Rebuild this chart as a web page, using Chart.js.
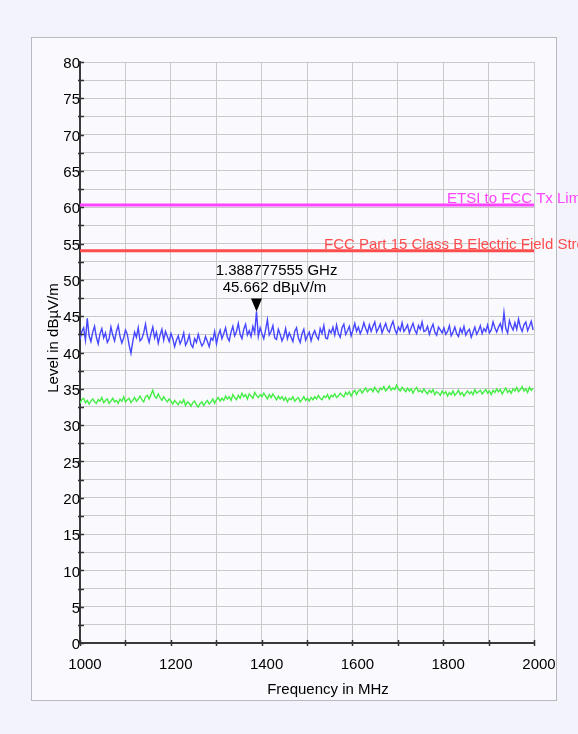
<!DOCTYPE html>
<html>
<head>
<meta charset="utf-8">
<script src="https://cdn.jsdelivr.net/npm/chart.js@4/dist/chart.umd.min.js"></script>
<style>
html,body{margin:0;padding:0;background:#f3f3fb;}
#wrap{position:absolute;left:0;top:0;width:578px;height:734px;}
</style>
</head>
<body>
<div id="wrap"><canvas id="c" width="578" height="734"></canvas></div>
<script>
// ---- data ----
const sweepStartMHz = 1000;
const sweepStepMHz = 2000 / 499; // 250 sweep points
const peakLevel = [
41.8,42.9,43.4,41.7,44.7,42.3,41.5,42.8,43.6,42.1,
41.2,42.6,43.3,42.0,42.7,41.4,41.9,43.5,42.4,41.6,
42.9,43.7,42.2,41.3,42.0,43.1,42.5,41.0,39.9,41.5,
42.8,42.1,43.4,41.6,41.9,42.7,43.9,42.3,41.4,42.6,
43.5,42.0,42.8,41.3,42.4,43.2,41.7,42.9,42.2,41.5,
42.6,41.9,40.8,41.7,42.3,41.2,41.8,42.7,41.0,41.5,
42.4,41.1,40.7,41.9,41.4,42.5,41.6,40.9,41.3,42.2,
41.5,40.8,42.0,41.7,42.9,41.2,42.4,43.1,41.9,42.6,
43.4,42.1,41.6,42.8,43.6,42.3,42.9,44.0,42.5,41.9,
43.2,43.9,42.4,43.0,42.2,43.6,42.7,45.662,42.2,43.4,
42.6,41.9,43.1,44.5,42.4,42.9,43.7,42.0,41.8,43.2,
42.5,41.6,42.2,43.3,41.9,42.7,42.1,41.5,42.9,43.4,
42.0,41.4,42.6,43.2,41.7,42.3,42.8,41.6,42.5,43.0,
42.2,41.8,43.3,42.6,43.7,42.0,41.9,43.1,42.7,43.5,
42.4,43.8,42.6,42.1,43.4,43.9,42.5,43.0,43.6,42.3,
43.1,44.0,42.9,43.5,42.6,43.2,44.1,43.3,42.7,43.8,
42.9,43.6,44.2,42.8,43.3,43.9,42.7,43.4,44.0,43.1,
42.8,43.7,44.3,43.2,42.6,43.5,43.0,44.1,42.9,43.3,
43.8,42.7,43.4,44.0,43.1,42.6,43.7,43.2,44.2,42.9,
43.0,43.6,42.5,43.3,43.9,42.8,42.4,43.5,43.1,42.7,
43.4,42.5,42.9,43.7,42.3,42.8,43.5,42.6,42.2,43.3,
42.7,43.6,42.4,42.9,43.2,42.1,42.8,43.5,42.5,43.0,
43.7,42.6,43.3,42.9,43.8,42.7,43.1,44.2,43.4,42.8,
43.5,44.0,43.0,45.5,43.3,42.7,44.4,43.6,43.1,44.1,
43.2,44.6,43.5,42.9,43.8,44.2,43.0,43.6,44.3,43.1
];
const avgLevel = [
33.0,33.5,33.7,33.1,33.4,32.9,33.3,33.6,33.2,33.0,
33.5,33.3,33.8,33.1,33.4,33.6,33.0,33.3,33.7,33.2,
33.4,33.0,33.6,33.3,33.9,33.2,33.5,33.7,33.1,33.4,
33.8,33.3,33.6,34.0,33.5,33.2,33.9,34.1,33.6,34.2,
34.8,34.0,33.7,34.3,33.8,33.4,33.9,33.5,33.2,33.6,
33.3,32.9,33.4,33.1,32.8,33.3,33.0,33.5,32.7,33.2,
33.0,32.6,33.1,33.3,32.8,32.5,33.0,33.2,32.7,33.1,
33.4,32.9,33.2,33.6,33.0,33.5,33.8,33.3,33.7,33.4,
34.0,33.6,33.9,33.4,34.2,33.8,33.5,34.1,33.7,34.4,
33.9,34.2,33.6,34.3,34.0,33.7,34.5,34.1,33.8,34.2,
33.9,34.4,34.0,33.6,34.2,33.8,34.3,33.9,33.5,34.0,
33.6,33.9,33.4,33.8,33.2,33.7,33.5,33.9,33.3,33.6,
33.8,33.2,33.5,33.9,33.4,33.7,33.3,33.8,33.5,33.9,
33.6,34.1,33.7,33.5,34.0,33.8,34.2,33.6,34.1,33.9,
34.3,33.8,34.0,34.4,34.1,33.9,34.5,34.2,34.6,34.0,
34.5,34.8,34.2,34.7,34.9,34.4,34.8,35.1,34.6,34.9,
35.0,34.6,35.2,34.8,34.5,35.1,34.9,35.3,34.7,35.0,
35.4,34.8,35.1,34.9,35.5,35.0,34.7,35.2,34.9,34.6,
35.1,34.7,35.0,34.4,34.9,35.2,34.6,34.8,34.5,35.0,
34.6,34.3,34.8,34.5,34.9,34.2,34.6,34.4,34.1,34.7,
34.3,34.6,34.0,34.5,34.2,34.7,34.1,34.4,34.8,34.2,
34.5,34.0,34.4,34.7,34.3,34.6,34.2,34.9,34.4,34.6,
34.8,34.3,34.6,34.9,34.4,34.7,34.2,34.8,34.5,35.0,
34.6,34.9,34.3,34.7,35.1,34.5,34.8,34.4,35.0,34.7,
35.2,34.6,34.9,35.3,34.7,35.0,34.5,35.2,34.8,35.1
];
const limitNames = ["ETSI to FCC Tx Limit", "FCC Part 15 Class B Electric Field Strength Limit"];
const limitLevels = [60.3, 54.0];
const markerFreqMHz = 1388.777555;
const markerLevel = 45.662;
const markerLines = ["1.388777555 GHz", "45.662 dBµV/m"];
const xTitle = "Frequency in MHz";
const yTitle = "Level in dBµV/m";

// ---- build ----
const toPts = arr => arr.map((v, i) => ({x: sweepStartMHz + i * sweepStepMHz, y: v}));
const FONT = '"Liberation Sans", Arial, sans-serif';
const FS = 15;
const limitColors = ['#ff44ff', '#ff4d4d'];

const decor = {
  id: 'decor',
  beforeDraw(chart) {
    const ctx = chart.ctx;
    ctx.save();
    ctx.fillStyle = '#f3f3fb';
    ctx.fillRect(0, 0, chart.width, chart.height);
    ctx.fillStyle = '#f9f9fe';
    ctx.fillRect(31.5, 37.5, 525, 663);
    ctx.strokeStyle = '#b9b9c2';
    ctx.lineWidth = 1;
    ctx.strokeRect(31.5, 37.5, 525, 663);
    ctx.restore();
  },
  afterDraw(chart) {
    const ctx = chart.ctx;
    const xs = chart.scales.x, ys = chart.scales.y;
    const a = chart.chartArea;
    ctx.save();
    // tick marks
    ctx.strokeStyle = '#333';
    ctx.lineWidth = 1.5;
    ys.ticks.forEach(t => {
      const y = Math.round(ys.getPixelForValue(t.value)) + 0.5;
      ctx.beginPath(); ctx.moveTo(a.left - 2, y); ctx.lineTo(a.left + 4, y); ctx.stroke();
    });
    xs.ticks.forEach(t => {
      const x = Math.round(xs.getPixelForValue(t.value)) + 0.5;
      ctx.beginPath(); ctx.moveTo(x, a.bottom - 3); ctx.lineTo(x, a.bottom + 3); ctx.stroke();
    });
    // limit labels
    ctx.font = FS + 'px ' + FONT;
    ctx.textBaseline = 'alphabetic';
    ctx.textAlign = 'left';
    const labelX = [447, 324];
    limitLevels.forEach((lv, i) => {
      const y = ys.getPixelForValue(lv);
      ctx.fillStyle = limitColors[i];
      ctx.fillText(limitNames[i], labelX[i], y - 2);
    });
    // marker
    const px = xs.getPixelForValue(markerFreqMHz);
    const py = ys.getPixelForValue(markerLevel);
    ctx.fillStyle = '#000';
    ctx.beginPath();
    ctx.moveTo(px, py);
    ctx.lineTo(px - 5.5, py - 13);
    ctx.lineTo(px + 5.5, py - 13);
    ctx.closePath();
    ctx.fill();
    ctx.textAlign = 'center';
    ctx.fillText(markerLines[0], px + 20, py - 36);
    ctx.fillText(markerLines[1], px + 18, py - 19);
    // axis titles
    ctx.fillText(xTitle, 328, 694);
    ctx.translate(58, 338);
    ctx.rotate(-Math.PI / 2);
    ctx.fillText(yTitle, 0, 0);
    ctx.restore();
  }
};

const datasets = [
  {data: toPts(peakLevel), borderColor: '#4646ff', borderWidth: 1.4, pointRadius: 0, tension: 0},
  {data: toPts(avgLevel), borderColor: '#44ee44', borderWidth: 1.4, pointRadius: 0, tension: 0}
];
limitLevels.forEach((lv, i) => {
  datasets.push({data: [{x: 1000, y: lv}, {x: 2000, y: lv}], borderColor: limitColors[i], borderWidth: 3, pointRadius: 0});
});

new Chart(document.getElementById('c'), {
  type: 'line',
  data: {datasets},
  plugins: [decor],
  options: {
    responsive: false,
    animation: false,
    events: [],
    layout: {padding: {top: 62, right: 44, bottom: 0, left: 0}},
    plugins: {legend: {display: false}, tooltip: {enabled: false}},
    scales: {
      x: {
        type: 'linear', min: 1000, max: 2000,
        afterFit: s => { s.height = 91; },
        grid: {color: '#cacaca', lineWidth: 1, drawTicks: false},
        border: {display: true, color: '#3a3a3a', width: 2},
        ticks: {stepSize: 100, autoSkip: false, maxRotation: 0, padding: 13, labelOffset: 5,
          color: '#000', font: {family: FONT, size: FS},
          callback: v => (v % 200 === 0 ? String(v) : '')}
      },
      y: {
        type: 'linear', min: 0, max: 80,
        afterFit: s => { s.width = 80; },
        grid: {color: '#cacaca', lineWidth: 1, drawTicks: false},
        border: {display: true, color: '#3a3a3a', width: 2},
        ticks: {stepSize: 2.5, autoSkip: false, padding: 0, labelOffset: 2,
          color: '#000', font: {family: FONT, size: FS},
          callback: v => (v % 5 === 0 ? String(v) : '')}
      }
    }
  }
});
</script>
</body>
</html>
